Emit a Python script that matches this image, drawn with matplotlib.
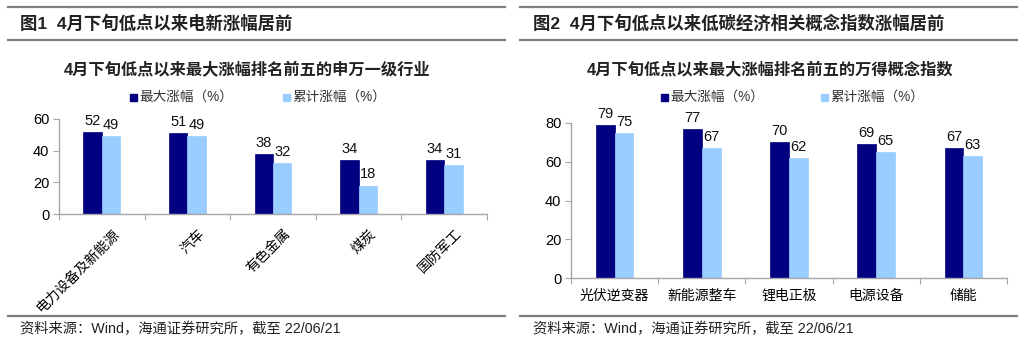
import matplotlib
matplotlib.use("Agg")
import matplotlib.pyplot as plt
from matplotlib.lines import Line2D
import matplotlib.transforms as mtrans
import numpy as np

plt.rcParams['font.family'] = ['Liberation Sans', 'Noto Sans CJK SC', 'DejaVu Sans']

# ---- data ----
cats1 = ["电力设备及新能源", "汽车", "有色金属", "煤炭", "国防军工"]
max1 = [52, 51, 38, 34, 34]
cum1 = [49, 49, 32, 18, 31]

cats2 = ["光伏逆变器", "新能源整车", "锂电正极", "电源设备", "储能"]
max2 = [79, 77, 70, 69, 67]
cum2 = [75, 67, 62, 65, 63]

series_names = ["最大涨幅（%）", "累计涨幅（%）"]
header1 = "图1  4月下旬低点以来电新涨幅居前"
header2 = "图2  4月下旬低点以来低碳经济相关概念指数涨幅居前"
title1 = "4月下旬低点以来最大涨幅排名前五的申万一级行业"
title2 = "4月下旬低点以来最大涨幅排名前五的万得概念指数"
source = "资料来源：Wind，海通证券研究所，截至 22/06/21"

DARK = "#000080"
LIGHT = "#99CCFF"
GRAY = "#A6A6A6"
LINE = "#7F7F7F"

W, H = 1024, 347
fig = plt.figure(figsize=(W / 100, H / 100), dpi=100)

def fx(px):
    return px / W

def fy(py):
    return 1 - py / H

def frame(x0, x1, hx, header):
    for y in (7, 40, 316):
        fig.add_artist(Line2D([fx(x0), fx(x1)], [fy(y), fy(y)], color=LINE, lw=1.6))
    fig.text(fx(hx), fy(23), header, fontsize=12.5, fontweight='bold', va='center', ha='left', color='#222222')
    fig.text(fx(hx), fy(329), source, fontsize=10.3, va='center', ha='left', color='#222222')

frame(8, 505, 20, header1)
frame(520, 1017, 533, header2)

def panel(rect, cats, a, b, ymax, yticks, title, tcx, leg_x, rotate):
    ax = fig.add_axes(rect)
    x = np.arange(len(cats))
    w = 0.215
    b1 = ax.bar(x - w / 2, a, w, color=DARK, edgecolor=DARK, lw=0.5)
    b2 = ax.bar(x + w / 2, b, w, color=LIGHT, edgecolor=LIGHT, lw=0.5)
    for bars in (b1, b2):
        ax.bar_label(bars, padding=3, fontsize=10.5, color='#111111', clip_on=False)
    ax.set_xlim(-0.5, len(cats) - 0.5)
    ax.set_ylim(0, ymax)
    ax.set_yticks(yticks)
    ax.tick_params(axis='y', labelsize=10.5, length=4, color=GRAY, direction='out', pad=3)
    ax.set_xticks(np.arange(len(cats) + 1) - 0.5, minor=False)
    ax.set_xticklabels([])
    ax.tick_params(axis='x', length=4, color=GRAY, direction='out')
    ax.set_xticks(x, minor=True)
    if rotate:
        labels = ax.set_xticklabels(cats, minor=True, rotation=45, ha='right', va='top',
                                    rotation_mode='anchor', fontsize=10)
        ax.tick_params(axis='x', which='minor', length=0, pad=9)
        off = mtrans.ScaledTranslation(10 / 100, 0, fig.dpi_scale_trans)
        for lab in labels:
            lab.set_transform(lab.get_transform() + off)
    else:
        ax.set_xticklabels(cats, minor=True, fontsize=10)
        ax.tick_params(axis='x', which='minor', length=0, pad=8)
    for s in ('top', 'right'):
        ax.spines[s].set_visible(False)
    for s in ('left', 'bottom'):
        ax.spines[s].set_color(GRAY)
        ax.spines[s].set_linewidth(1)
    fig.text(fx(tcx), fy(70), title, fontsize=11.7, fontweight='bold', ha='center', va='center', color='#222222')
    for i, (col, name) in enumerate(zip((DARK, LIGHT), series_names)):
        lx = leg_x[i]
        fig.patches.append(plt.Rectangle((fx(lx), fy(101)), fx(7), 7 / H, color=col,
                                         transform=fig.transFigure, figure=fig))
        fig.text(fx(lx + 9), fy(97), name, fontsize=9.8, ha='left', va='center', color='#333333')
    return ax

panel([fx(59), fy(214), fx(487 - 59), (214 - 119) / H], cats1, max1, cum1, 60, [0, 20, 40, 60],
      title1, 247, (130, 283), True)
panel([fx(571), fy(278), fx(1007 - 571), (278 - 123) / H], cats2, max2, cum2, 80, [0, 20, 40, 60, 80],
      title2, 770, (661, 821), False)

fig.savefig("out.png", dpi=100, facecolor='white')
